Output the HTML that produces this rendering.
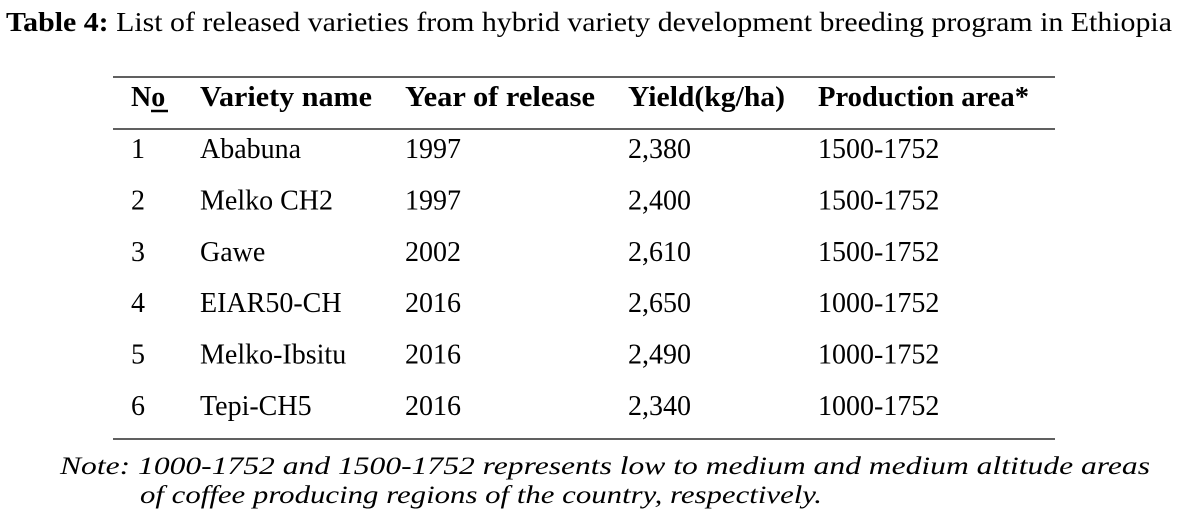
<!DOCTYPE html>
<html><head><meta charset="utf-8"><style>
html,body{margin:0;padding:0;background:#fff;}
svg{display:block;}
svg text{font-family:"Liberation Serif","Times New Roman",serif;}
</style></head><body>
<svg width="1181" height="518" viewBox="0 0 1181 518">
<text x="6" y="31" font-size="27" textLength="1166" lengthAdjust="spacingAndGlyphs"><tspan font-weight="bold">Table 4:</tspan> List of released varieties from hybrid variety development breeding program in Ethiopia</text>
<g stroke="#000" stroke-width="1.3">
<line x1="113" y1="77" x2="1055" y2="77"/>
<line x1="113" y1="129" x2="1055" y2="129"/>
<line x1="113" y1="439" x2="1055" y2="439"/>
</g>
<g font-size="28" font-weight="bold">
<text x="131" y="106">No</text>
<line x1="151" y1="111" x2="168" y2="111" stroke="#000" stroke-width="2.5"/>
<text x="200" y="106" textLength="172" lengthAdjust="spacingAndGlyphs">Variety name</text>
<text x="405" y="106" textLength="190" lengthAdjust="spacingAndGlyphs">Year of release</text>
<text x="628" y="106" textLength="157" lengthAdjust="spacingAndGlyphs">Yield(kg/ha)</text>
<text x="818" y="106" textLength="211" lengthAdjust="spacingAndGlyphs">Production area*</text>
</g>
<g font-size="28" id="rows"></g>
<text x="60" y="474" font-size="25" font-style="italic" textLength="1090" lengthAdjust="spacingAndGlyphs" style="font-family:'Liberation Serif',serif">Note: 1000-1752 and 1500-1752 represents low to medium and medium altitude areas</text>
<text x="140" y="503" font-size="25" font-style="italic" textLength="682" lengthAdjust="spacingAndGlyphs" style="font-family:'Liberation Serif',serif">of coffee producing regions of the country, respectively.</text>
</svg>
<script>
const nos=["1","2","3","4","5","6"];
const names=["Ababuna","Melko CH2","Gawe","EIAR50-CH","Melko-Ibsitu","Tepi-CH5"];
const years=["1997","1997","2002","2016","2016","2016"];
const yields=["2,380","2,400","2,610","2,650","2,490","2,340"];
const areas=["1500-1752","1500-1752","1500-1752","1000-1752","1000-1752","1000-1752"];
const g=document.getElementById('rows');
const cols=[[131,nos,'cell-no'],[200,names,'cell-variety'],[405,years,'cell-year'],[628,yields,'cell-yield'],[818,areas,'cell-area']];
const NS='http://www.w3.org/2000/svg';
for(let i=0;i<nos.length;i++){
  const y=158+i*51.4;
  for(const [x,arr,nm] of cols){
    const t=document.createElementNS(NS,'text');
    t.setAttribute('x',x);t.setAttribute('y',y);
    
    
    t.textContent=arr[i];
    g.appendChild(t);
  }
}
</script>
</body></html>
